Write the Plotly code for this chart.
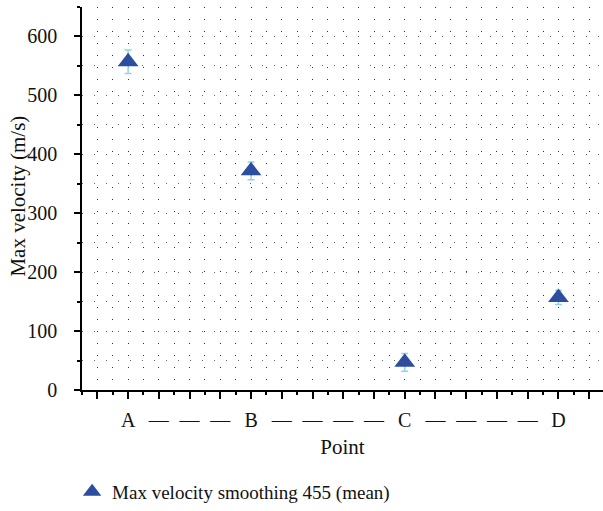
import plotly.graph_objects as go

# ---- data ----
tick_labels = ["", "A", "—", "—", "—", "B", "—", "—", "—", "—", "C",
               "—", "—", "—", "—", "D", ""]
points = ["A", "B", "C", "D"]
mean_velocity = [557, 372, 47, 157]
velocity_err = [20, 15, 15, 12]
series_name = "Max velocity smoothing 455 (mean)"
y_title = "Max velocity (m/s)"
y_ticks = [0, 100, 200, 300, 400, 500, 600]

x_pos = [tick_labels.index(p) for p in points]
FONT = "Liberation Serif"

fig = go.Figure()
fig.add_trace(go.Scatter(
    x=x_pos, y=mean_velocity, mode="markers", name=series_name,
    marker=dict(symbol="triangle-up", size=18, color="#2d4d9e",
                line=dict(width=0)),
    error_y=dict(type="data", array=velocity_err, visible=True,
                 color="#8fd4ea", thickness=1.5, width=3.5),
))

grid_dash = "1px,11px"
fig.update_layout(
    width=603, height=511,
    margin=dict(l=82, r=0, t=7, b=120),
    paper_bgcolor="white", plot_bgcolor="white",
    font=dict(family=FONT, size=19, color="#111"),
    showlegend=True,
    legend=dict(x=-0.019, xanchor="left", y=-0.266, yanchor="middle",
                font=dict(family=FONT, size=19), bgcolor="rgba(0,0,0,0)"),
    xaxis=dict(
        range=[-0.5, 16.45], tickmode="array",
        tickvals=list(range(len(tick_labels))), ticktext=tick_labels,
        ticks="outside", ticklen=7, tickwidth=1.5, tickcolor="black",
        showline=True, linecolor="black", linewidth=1.5,
        showgrid=True, gridcolor="#333", gridwidth=1, griddash=grid_dash,
        zeroline=False,
        minor=dict(tickmode="array",
                   tickvals=[i + 0.5 for i in range(-1, 17)],
                   ticks="outside", ticklen=3, tickwidth=1.5, tickcolor="black",
                   showgrid=True, gridcolor="#333", gridwidth=1, griddash=grid_dash),
        title=dict(text="Point", font=dict(family=FONT, size=21), standoff=10),
        ticklabelstandoff=4,
        tickfont=dict(family=FONT, size=20),
    ),
    yaxis=dict(
        range=[0, 650], tickmode="array", tickvals=y_ticks,
        ticks="outside", ticklen=6, tickwidth=1.5, tickcolor="black",
        showline=True, linecolor="black", linewidth=1.5,
        showgrid=True, gridcolor="#666", gridwidth=1, griddash=grid_dash,
        zeroline=False,
        minor=dict(dtick=50, tick0=0, ticks="outside", ticklen=3, tickwidth=1.5,
                   tickcolor="black", showgrid=True, gridcolor="#666",
                   gridwidth=1, griddash=grid_dash),
        ticklabelstandoff=13,
        tickfont=dict(family=FONT, size=20),
    ),
    annotations=[dict(text=y_title, xref="paper", yref="paper",
                      x=-0.1228, y=0.505, xanchor="center", yanchor="middle",
                      textangle=-90, showarrow=False,
                      font=dict(family=FONT, size=21))],
)

fig.write_html("out.html")
